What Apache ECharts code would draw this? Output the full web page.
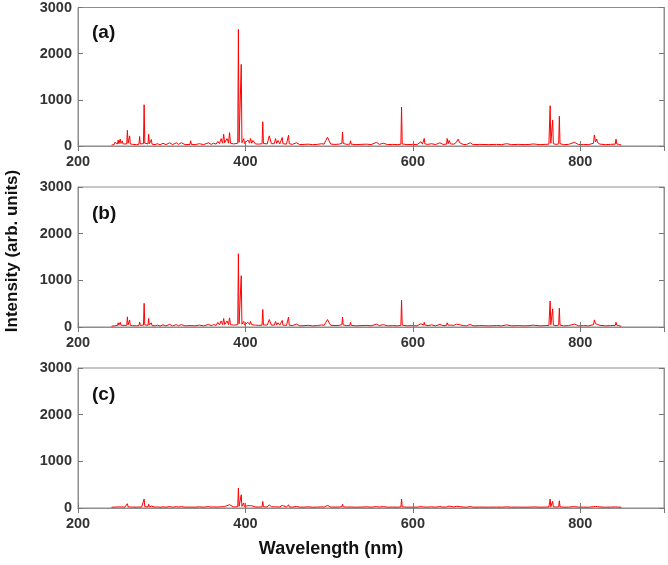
<!DOCTYPE html>
<html>
<head>
<meta charset="utf-8">
<title>Emission spectra</title>
<script src="https://cdn.jsdelivr.net/npm/echarts@6/dist/echarts.min.js"></script>
<style>
  html, body { margin: 0; padding: 0; background: #fff; }
  #chart { width: 668px; height: 565px; }
</style>
</head>
<body>
<div id="chart"></div>
<script>
// shared wavelength grid (nm); 10 points a line
const wavelength = [
  240, 242, 243.2, 244, 244.8, 247.2, 248, 248.8, 249.7, 250.5,
  251.3, 252.2, 253, 253.8, 256, 258.2, 259, 259.8, 260.9, 261.7,
  262.5, 265.2, 266, 266.8, 270, 272.8, 273.6, 274.4, 276, 278.2,
  279, 279.8, 281, 283.6, 284.4, 285.2, 286.8, 287.6, 288.4, 292,
  295, 298, 301.5, 305, 309.5, 313, 317.5, 320, 323.5, 328,
  333.8, 334.6, 335.4, 340, 345, 350, 356, 359, 362, 365,
  367, 369, 371, 372.8, 374, 375.2, 377, 378, 379.8, 381,
  382.2, 386, 390.8, 391.6, 392.4, 394.2, 395, 395.8, 397.2, 398,
  398.8, 401, 403, 405, 406, 407.5, 409, 412, 416, 419.9,
  420.7, 421.5, 426, 428.5, 431, 434.5, 436, 437.3, 439, 441,
  443.2, 444, 444.8, 449, 450.7, 451.5, 452.3, 456, 461, 465,
  470, 475, 480, 486, 491, 494, 496, 498, 500, 502,
  507, 512, 515.2, 516, 516.8, 521, 524.7, 525.5, 526.3, 532,
  538, 545, 550, 556.6, 560, 564.6, 570, 576, 582, 585.7,
  586.5, 587.3, 593, 600, 605, 609.6, 611.5, 612.8, 613.6, 614.4,
  618, 622.4, 627, 632.3, 636, 640.2, 641, 642.2, 643.4, 645,
  646.6, 649, 652, 654, 656, 660, 664, 668.5, 672, 680,
  690, 700, 706, 712, 718, 726, 734, 740, 742, 743.5,
  744.7, 746, 752, 758, 762.5, 763.2, 764, 764.8, 766.2, 767,
  767.8, 771, 774.2, 775, 775.8, 780, 786, 793, 798, 804,
  810, 815.8, 816.8, 818.2, 819.6, 820.8, 822, 823.5, 830, 836,
  841.8, 842.7, 843.6, 846, 849
];

// panel (a)
const intensityA = [
  20, 35, 30, 80, 40, 45, 130, 50, 60, 150,
  55, 50, 110, 45, 40, 45, 340, 60, 70, 220,
  45, 35, 60, 35, 30, 40, 206, 45, 35, 50,
  894, 60, 40, 45, 255, 50, 45, 140, 40, 30,
  50, 25, 60, 30, 70, 30, 70, 35, 70, 30,
  35, 113, 35, 30, 50, 30, 70, 35, 60, 40,
  100, 50, 160, 60, 255, 70, 80, 160, 60, 290,
  60, 45, 60, 2526, 80, 90, 1766, 70, 60, 160,
  55, 50, 130, 60, 163, 60, 120, 45, 40, 50,
  525, 55, 45, 220, 50, 50, 160, 55, 120, 45,
  50, 185, 50, 40, 55, 234, 50, 35, 70, 30,
  35, 40, 30, 35, 50, 40, 120, 190, 110, 40,
  35, 40, 60, 300, 55, 35, 40, 113, 40, 30,
  35, 40, 30, 78, 35, 60, 30, 35, 30, 40,
  845, 45, 30, 35, 30, 92, 40, 45, 163, 45,
  35, 50, 30, 70, 35, 40, 163, 50, 120, 45,
  80, 40, 80, 149, 70, 35, 30, 70, 30, 35,
  30, 35, 30, 50, 30, 35, 30, 35, 50, 45,
  80, 40, 30, 35, 40, 50, 872, 60, 60, 560,
  50, 35, 45, 645, 50, 30, 35, 80, 30, 35,
  30, 60, 240, 90, 150, 70, 80, 40, 30, 35,
  40, 150, 45, 35, 20
];

// panel (b)
const intensityB = [
  15, 25, 25, 60, 30, 35, 90, 40, 45, 100,
  40, 35, 80, 35, 30, 35, 217, 45, 50, 150,
  35, 30, 50, 30, 25, 30, 108, 35, 30, 40,
  507, 45, 30, 35, 182, 40, 35, 90, 30, 25,
  40, 20, 45, 25, 55, 25, 50, 28, 50, 25,
  30, 60, 30, 25, 40, 25, 55, 30, 50, 35,
  100, 45, 130, 50, 182, 55, 60, 130, 50, 195,
  50, 40, 50, 1570, 70, 75, 1099, 60, 50, 120,
  45, 40, 100, 50, 120, 50, 90, 40, 35, 40,
  377, 45, 40, 160, 40, 40, 120, 45, 90, 40,
  40, 140, 40, 35, 45, 210, 40, 30, 60, 25,
  30, 35, 25, 30, 45, 35, 100, 160, 90, 35,
  30, 35, 50, 210, 45, 30, 35, 100, 35, 25,
  30, 35, 25, 60, 30, 50, 25, 30, 25, 35,
  572, 40, 25, 30, 25, 70, 35, 40, 100, 40,
  30, 45, 25, 55, 30, 35, 90, 40, 80, 40,
  60, 35, 60, 90, 50, 30, 25, 55, 25, 30,
  25, 30, 25, 45, 25, 30, 25, 30, 40, 40,
  70, 35, 25, 30, 35, 40, 557, 50, 50, 390,
  40, 30, 40, 405, 40, 25, 30, 60, 25, 30,
  25, 50, 152, 70, 110, 55, 60, 35, 25, 30,
  35, 102, 40, 30, 15
];

// panel (c)
const intensityC = [
  15, 20, 20, 30, 22, 22, 40, 25, 25, 45,
  25, 22, 35, 22, 20, 25, 92, 25, 28, 60,
  22, 20, 30, 20, 18, 22, 60, 22, 20, 25,
  192, 28, 20, 22, 80, 25, 22, 40, 20, 18,
  25, 15, 25, 18, 30, 18, 30, 20, 30, 18,
  20, 35, 20, 18, 25, 18, 30, 20, 25, 20,
  40, 25, 45, 28, 60, 30, 30, 50, 28, 70,
  28, 22, 28, 427, 35, 40, 284, 35, 30, 110,
  28, 25, 50, 28, 50, 28, 40, 22, 20, 25,
  142, 25, 22, 70, 25, 25, 50, 25, 40, 22,
  25, 55, 25, 20, 25, 70, 25, 18, 35, 18,
  20, 25, 18, 20, 25, 20, 40, 55, 38, 20,
  20, 22, 28, 80, 25, 20, 22, 40, 22, 18,
  20, 25, 18, 30, 20, 30, 18, 20, 18, 22,
  192, 25, 18, 20, 18, 30, 20, 22, 45, 22,
  20, 25, 18, 30, 20, 22, 45, 25, 40, 22,
  30, 22, 35, 50, 30, 20, 18, 30, 18, 20,
  18, 20, 18, 25, 18, 20, 18, 20, 25, 22,
  30, 22, 18, 20, 22, 25, 192, 28, 28, 142,
  25, 20, 25, 156, 25, 18, 20, 30, 18, 20,
  18, 28, 55, 35, 45, 28, 30, 22, 18, 20,
  22, 45, 25, 20, 15
];

const panelLabels = ['(a)', '(b)', '(c)'];
const xTicks = { min: 200, max: 900, interval: 200 };
const yTicks = { min: 0, max: 3000, interval: 1000 };

const FONT = '"Liberation Sans", Arial, sans-serif';
const AXIS_GRAY = '#8e8e8e';
const panelTops = [6, 187, 368];
const panelHeight = 140;

let chart = echarts.init(document.getElementById('chart'), null, { renderer: 'canvas' });

function zip(ys) {
  return wavelength.map((w, i) => [w, ys[i]]);
}

let grids = [], xAxes = [], yAxes = [], series = [], titles = [];
const spectra = [intensityA, intensityB, intensityC];

spectra.forEach((ys, k) => {
  grids.push({
    left: 78, top: panelTops[k], width: 586, height: panelHeight,
    show: true, borderColor: AXIS_GRAY, borderWidth: 1, backgroundColor: '#fff'
  });
  // bottom axis with labels
  xAxes.push({
    type: 'value', gridIndex: k, position: 'bottom',
    min: xTicks.min, max: xTicks.max, interval: xTicks.interval,
    axisLine: { show: true, lineStyle: { color: AXIS_GRAY, width: 1 } },
    axisTick: { show: true, inside: true, length: 5, lineStyle: { color: '#777' } },
    axisLabel: {
      show: true, showMaxLabel: false, margin: 8,
      color: '#333', fontFamily: FONT, fontWeight: 'bold', fontSize: 14.5,
      formatter: v => (v === xTicks.max ? '' : String(v))
    },
    splitLine: { show: false }, z: 5
  });
  // mirrored top ticks
  xAxes.push({
    type: 'value', gridIndex: k, position: 'top',
    min: xTicks.min, max: xTicks.max, interval: xTicks.interval,
    axisLine: { show: true, lineStyle: { color: AXIS_GRAY, width: 1 } },
    axisTick: { show: true, inside: true, length: 5, lineStyle: { color: '#777' } },
    axisLabel: { show: false },
    splitLine: { show: false }, z: 5
  });
  yAxes.push({
    type: 'value', gridIndex: k, position: 'left',
    min: yTicks.min, max: yTicks.max, interval: yTicks.interval,
    axisLine: { show: true, lineStyle: { color: AXIS_GRAY, width: 1 } },
    axisTick: { show: true, inside: true, length: 5, lineStyle: { color: '#777' } },
    axisLabel: {
      show: true, margin: 6,
      color: '#333', fontFamily: FONT, fontWeight: 'bold', fontSize: 14.5,
      formatter: v => String(v)
    },
    splitLine: { show: false }, z: 5
  });
  yAxes.push({
    type: 'value', gridIndex: k, position: 'right',
    min: yTicks.min, max: yTicks.max, interval: yTicks.interval,
    axisLine: { show: true, lineStyle: { color: AXIS_GRAY, width: 1 } },
    axisTick: { show: true, inside: true, length: 5, lineStyle: { color: '#777' } },
    axisLabel: { show: false },
    splitLine: { show: false }, z: 5
  });
  series.push({
    type: 'line',
    xAxisIndex: 2 * k, yAxisIndex: 2 * k,
    data: zip(ys),
    showSymbol: false, symbol: 'none', sampling: null,
    lineStyle: { color: '#ff0000', width: 1 },
    silent: true, z: 3
  });
  titles.push({
    text: panelLabels[k], left: 87, top: panelTops[k] + 12,
    textStyle: { fontFamily: FONT, fontWeight: 'bold', fontSize: 19, color: '#111' }
  });
});

let option = {
  animation: false,
  backgroundColor: '#fff',
  title: titles,
  grid: grids,
  xAxis: xAxes,
  yAxis: yAxes,
  series: series,
  graphic: [
    {
      type: 'text', x: 12, y: 251, rotation: Math.PI / 2,
      style: {
        text: 'Intensity (arb. units)', fill: '#111',
        font: 'bold 17px ' + FONT, textAlign: 'center', textVerticalAlign: 'middle'
      }
    },
    {
      type: 'text', x: 331, y: 549,
      style: {
        text: 'Wavelength (nm)', fill: '#111',
        font: 'bold 18px ' + FONT, textAlign: 'center', textVerticalAlign: 'middle'
      }
    }
  ]
};

chart.setOption(option);
</script>
</body>
</html>
